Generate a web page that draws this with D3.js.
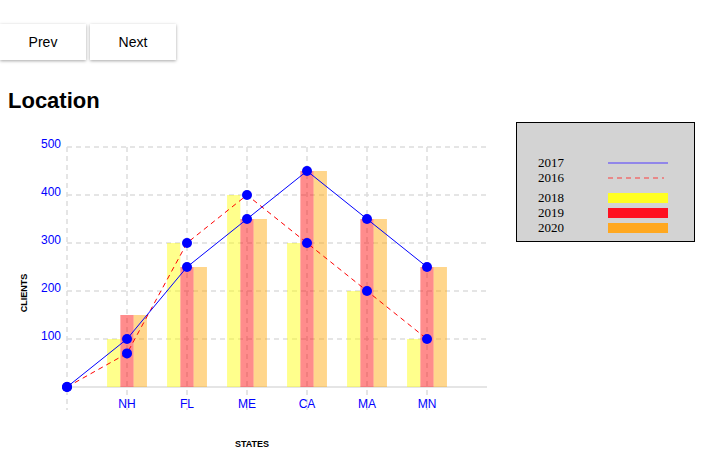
<!DOCTYPE html>
<html>
<head>
<meta charset="utf-8">
<script src="https://cdn.jsdelivr.net/npm/d3@7"></script>
<style>
body { margin: 0; font-family: "Liberation Sans", Arial, sans-serif; background: #fff; }
.btn { position: absolute; top: 24px; height: 36px; width: 86px; border: none; background: #fff;
  box-shadow: 0 1px 3px rgba(0,0,0,0.35); font-size: 14px; font-family: "Liberation Sans", Arial, sans-serif; }
h1 { position: absolute; left: 8px; top: 88px; margin: 0; font-size: 22px; }
svg { position: absolute; left: 0; top: 0; }
</style>
</head>
<body>
<button class="btn" style="left:0">Prev</button>
<button class="btn" style="left:90px">Next</button>
<h1>Location</h1>
<svg id="chart" width="723" height="464"></svg>
<script>
const states = ['NH', 'FL', 'ME', 'CA', 'MA', 'MN'];
const y2016 = [0, 70, 300, 400, 300, 200, 100];
const y2017 = [0, 100, 250, 350, 450, 350, 250];
const y2018 = [100, 300, 400, 300, 200, 100];
const y2019 = [150, 250, 350, 450, 350, 250];
const y2020 = [150, 250, 350, 450, 350, 250];
const yTicks = [100, 200, 300, 400, 500];

const svg = d3.select('#chart');
const slots = ['0', ...states, 'end'];
const x = d3.scalePoint().domain(slots).range([67, 487]);
const y = d3.scaleLinear().domain([0, 500]).range([387, 147]);

// grid
svg.selectAll('.hg').data(yTicks).enter().append('line')
  .attr('x1', 67).attr('x2', 487).attr('y1', d => y(d)).attr('y2', d => y(d))
  .attr('stroke', '#ddd').attr('stroke-width', 1.5).attr('stroke-dasharray', '5,4');
svg.selectAll('.vg').data(slots.slice(0, 7)).enter().append('line')
  .attr('x1', d => x(d)).attr('x2', d => x(d)).attr('y1', 147).attr('y2', 410)
  .attr('stroke', '#ddd').attr('stroke-width', 1.5).attr('stroke-dasharray', '5,4');
svg.append('line').attr('x1', 67).attr('x2', 487).attr('y1', 387).attr('y2', 387)
  .attr('stroke', '#ddd').attr('stroke-width', 1.5);

// bars
const bw = 13.3;
[[y2018, 'yellow', -1.5], [y2019, 'red', -0.5], [y2020, 'orange', 0.5]].forEach(([vals, c, off]) => {
  svg.append('g').selectAll('rect').data(vals).enter().append('rect')
    .attr('x', (d, i) => x(states[i]) + off * bw).attr('width', bw)
    .attr('y', d => y(d)).attr('height', d => 387 - y(d))
    .attr('fill', c).attr('opacity', 0.45);
});

// lines
const xs = slots.slice(0, 7);
const line = d3.line().x((d, i) => x(xs[i])).y(d => y(d));
svg.append('path').datum(y2016).attr('d', line).attr('fill', 'none')
  .attr('stroke', 'red').attr('stroke-width', 1).attr('stroke-dasharray', '5,4');
svg.append('path').datum(y2017).attr('d', line).attr('fill', 'none')
  .attr('stroke', 'blue').attr('stroke-width', 1);
[y2016, y2017].forEach(vals => {
  svg.append('g').selectAll('circle').data(vals).enter().append('circle')
    .attr('cx', (d, i) => x(xs[i])).attr('cy', d => y(d)).attr('r', 5).attr('fill', 'blue');
});

// axes labels
svg.selectAll('.yl').data(yTicks).enter().append('text')
  .attr('x', 61).attr('y', d => y(d) + 1).attr('text-anchor', 'end')
  .attr('fill', 'blue').attr('font-size', 12).text(d => d);
svg.selectAll('.xl').data(states).enter().append('text')
  .attr('x', d => x(d)).attr('y', 408).attr('text-anchor', 'middle')
  .attr('fill', 'blue').attr('font-size', 12).text(d => d);
svg.append('text').attr('x', 252).attr('y', 447).attr('text-anchor', 'middle')
  .attr('font-size', 9).attr('font-weight', 'bold').text('STATES');
svg.append('text').attr('transform', 'translate(27,293) rotate(-90)').attr('text-anchor', 'middle')
  .attr('font-size', 9).attr('font-weight', 'bold').text('CLIENTS');

// legend
const lg = svg.append('g');
lg.append('rect').attr('x', 516.5).attr('y', 122.5).attr('width', 178).attr('height', 119)
  .attr('fill', '#d3d3d3').attr('stroke', '#000');
const legend = [
  { k: '2017', y: 163, type: 'line', c: '#7b6cf0' },
  { k: '2016', y: 178, type: 'dash', c: '#f07070' },
  { k: '2018', y: 198, type: 'rect', c: '#ffff22' },
  { k: '2019', y: 213, type: 'rect', c: '#ff1020' },
  { k: '2020', y: 228, type: 'rect', c: '#ffa820' }
];
legend.forEach(d => {
  lg.append('text').attr('x', 538).attr('y', d.y + 4).attr('font-family', '"Liberation Serif", serif')
    .attr('font-size', 13).text(d.k);
  if (d.type === 'rect') {
    lg.append('rect').attr('x', 608).attr('y', d.y - 5).attr('width', 60).attr('height', 10).attr('fill', d.c);
  } else {
    lg.append('line').attr('x1', 608).attr('x2', d.type === 'dash' ? 664 : 668).attr('y1', d.y).attr('y2', d.y)
      .attr('stroke', d.c).attr('stroke-width', 1.5).attr('stroke-dasharray', d.type === 'dash' ? '5,4' : null);
  }
});
</script>
</body>
</html>
